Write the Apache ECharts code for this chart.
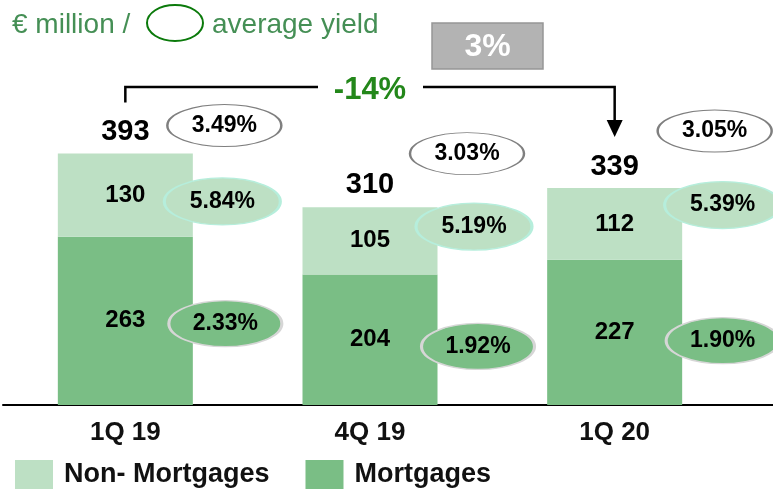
<!DOCTYPE html>
<html>
<head>
<meta charset="utf-8">
<script src="https://cdn.jsdelivr.net/npm/echarts@6/dist/echarts.min.js"></script>
<style>
  html, body { margin: 0; padding: 0; background: #fff; }
  #chart { width: 773px; height: 489px; }
</style>
</head>
<body>
<div id="chart"></div>
<script>
const categories = ['1Q 19', '4Q 19', '1Q 20']
const mortgages = [263, 204, 227]
const nonMortgages = [130, 105, 112]
const totals = [393, 310, 339]
const totalYield = ['3.49%', '3.03%', '3.05%']
const nonMortgageYield = ['5.84%', '5.19%', '5.39%']
const mortgageYield = ['2.33%', '1.92%', '1.90%']
const changeLabel = '-14%'
const boxLabel = '3%'

// where the yield bubbles sit, pixel offsets from the top of their bar segment
const totalBubbleOffset = [[99, -28], [97, -53], [100, -57]]
const nonMortBubbleOffset = [[97, 48], [104, 20], [108, 17]]
const mortBubbleOffset = [[100, 87], [108, 72], [108, 81]]

const FONT = '"Liberation Sans", Arial, sans-serif'
const LIGHT = '#bde0c4'
const DARK = '#7abe85'

const bubbles = (name, anchors, labels, offsets, style, size) => ({
  name,
  type: 'scatter',
  clip: false,
  z: 5,
  silent: true,
  symbol: 'circle',
  symbolSize: size,
  itemStyle: Object.assign({ opacity: 1 }, style),
  label: {
    show: true,
    position: 'inside',
    color: '#000',
    fontFamily: FONT,
    fontWeight: 'bold',
    fontSize: 23
  },
  data: anchors.map((v, i) => ({
    value: [i, v],
    symbolOffset: offsets[i],
    label: { formatter: labels[i] }
  }))
})

const container = document.getElementById('chart')
const chart = echarts.init(container)

const options = {
  animation: false,
  grid: { left: 3, right: 36, top: 21, bottom: 84 },
  legend: {
    left: 15,
    top: 460,
    padding: 0,
    itemWidth: 38,
    itemHeight: 30,
    itemGap: 36,
    icon: 'rect',
    data: ['Non- Mortgages', 'Mortgages'],
    textStyle: {
      fontFamily: FONT,
      fontWeight: 'bold',
      fontSize: 27,
      color: '#111',
      padding: [0, 0, 0, 6]
    }
  },
  xAxis: {
    type: 'category',
    data: categories,
    axisTick: { show: false },
    axisLine: { lineStyle: { color: '#000', width: 2 } },
    axisLabel: {
      margin: 15,
      fontFamily: FONT,
      fontWeight: 'bold',
      fontSize: 26,
      color: '#111'
    }
  },
  yAxis: {
    type: 'value',
    min: 0,
    max: 600,
    show: false,
    splitLine: { show: false }
  },
  series: [
    {
      name: 'Mortgages',
      type: 'bar',
      stack: 'loans',
      barWidth: 135,
      itemStyle: { color: DARK },
      label: {
        show: true,
        position: 'inside',
        color: '#000',
        fontFamily: FONT,
        fontWeight: 'bold',
        fontSize: 24
      },
      data: mortgages
    },
    {
      name: 'Non- Mortgages',
      type: 'bar',
      stack: 'loans',
      barWidth: 135,
      itemStyle: { color: LIGHT },
      label: {
        show: true,
        position: 'inside',
        color: '#000',
        fontFamily: FONT,
        fontWeight: 'bold',
        fontSize: 24
      },
      data: nonMortgages
    },
    {
      name: 'total',
      type: 'bar',
      barGap: '-100%',
      barWidth: 135,
      silent: true,
      itemStyle: { color: 'transparent' },
      label: {
        show: true,
        position: 'top',
        distance: 7,
        color: '#000',
        fontFamily: FONT,
        fontWeight: 'bold',
        fontSize: 29
      },
      data: totals
    },
    bubbles('totalYield', totals, totalYield, totalBubbleOffset,
      { color: '#fff', borderColor: '#7f7f7f', borderWidth: 1.5 }, [114, 42]),
    bubbles('nonMortYield', totals, nonMortgageYield, nonMortBubbleOffset,
      { color: LIGHT, borderColor: '#b6eedc', borderWidth: 2 }, [116, 47]),
    bubbles('mortYield', mortgages, mortgageYield, mortBubbleOffset,
      { color: DARK, borderColor: '#d6d6d6', borderWidth: 2 }, [113, 46])
  ]
}
chart.setOption(options)

// annotations: title, bracket with arrow, grey box
const p0 = chart.convertToPixel({ gridIndex: 0 }, [0, totals[0]])
const p2 = chart.convertToPixel({ gridIndex: 0 }, [2, totals[2]])
const base = chart.convertToPixel({ gridIndex: 0 }, [0, 0])
const lineY = 87
const midX = (p0[0] + p2[0]) / 2
const tipY = p2[1] - 51
const lineStyle = { stroke: '#000', lineWidth: 2.5, fill: null }

chart.setOption({
  graphic: [
    { type: 'line', shape: { x1: 4, y1: base[1], x2: 773, y2: base[1] }, style: { stroke: '#000', lineWidth: 2 } },
    { type: 'text', left: 12, top: 11, style: { text: '€ million /', fontFamily: FONT, fontSize: 28, fill: '#458f55' } },
    { type: 'ellipse', shape: { cx: 175, cy: 23, rx: 28, ry: 18 }, style: { fill: '#fff', stroke: '#0b7a0b', lineWidth: 2 } },
    { type: 'text', left: 212, top: 11, style: { text: 'average yield', fontFamily: FONT, fontSize: 28, fill: '#458f55' } },
    { type: 'polyline', shape: { points: [[p0[0], p0[1] - 51], [p0[0], lineY], [midX - 52, lineY]] }, style: lineStyle },
    { type: 'polyline', shape: { points: [[midX + 53, lineY], [p2[0], lineY], [p2[0], tipY - 16]] }, style: lineStyle },
    { type: 'polygon', shape: { points: [[p2[0] - 8, tipY - 17], [p2[0] + 8, tipY - 17], [p2[0], tipY]] }, style: { fill: '#000' } },
    { type: 'text', x: midX, y: lineY + 3, style: { text: changeLabel, align: 'center', verticalAlign: 'middle', fontFamily: FONT, fontWeight: 'bold', fontSize: 31, fill: '#23871a' } },
    { type: 'rect', shape: { x: 432, y: 23, width: 111, height: 46 }, style: { fill: '#b3b3b3', stroke: '#969696', lineWidth: 1.5 } },
    { type: 'text', x: 487.5, y: 47, style: { text: boxLabel, align: 'center', verticalAlign: 'middle', fontFamily: FONT, fontWeight: 'bold', fontSize: 32, fill: '#fff' } }
  ]
})
</script>
</body>
</html>
